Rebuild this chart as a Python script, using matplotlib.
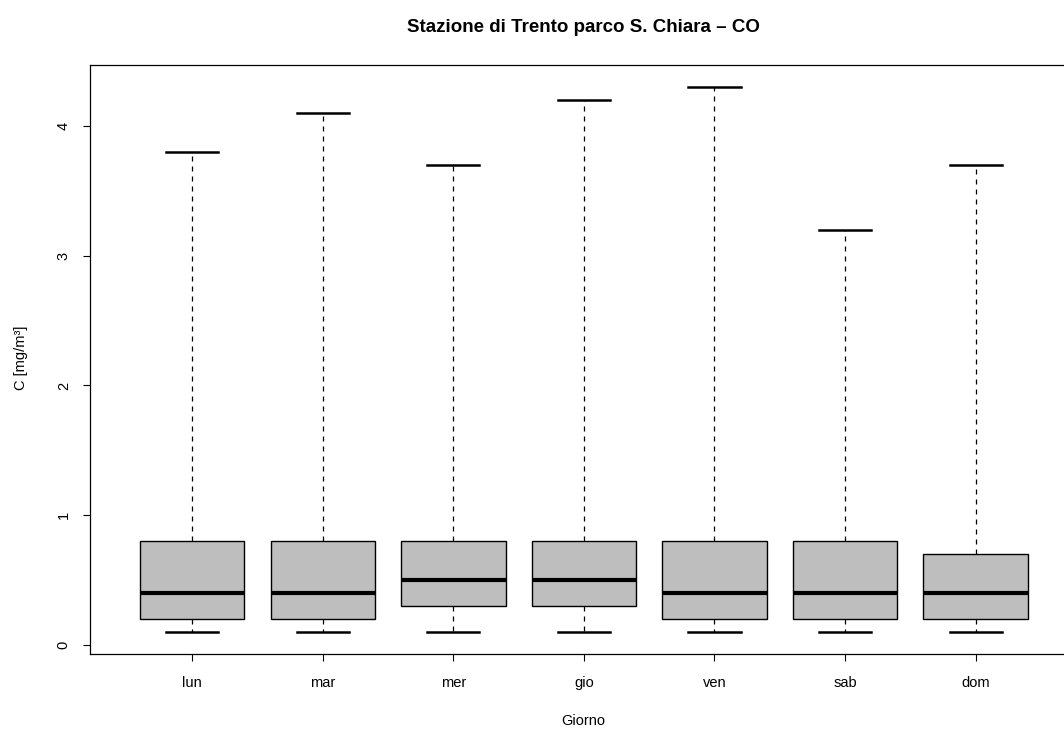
import matplotlib
matplotlib.use("Agg")
import matplotlib.pyplot as plt

days = ["lun", "mar", "mer", "gio", "ven", "sab", "dom"]
whis_lo = [0.1, 0.1, 0.1, 0.1, 0.1, 0.1, 0.1]
q1 = [0.2, 0.2, 0.3, 0.3, 0.2, 0.2, 0.2]
median = [0.4, 0.4, 0.5, 0.5, 0.4, 0.4, 0.4]
q3 = [0.8, 0.8, 0.8, 0.8, 0.8, 0.8, 0.7]
whis_hi = [3.8, 4.1, 3.7, 4.2, 4.3, 3.2, 3.7]

title = "Stazione di Trento parco S. Chiara \u2013 CO"
xlabel = "Giorno"
ylabel = "C [mg/m\u00b3]"

plt.rcParams['font.family'] = ['Liberation Sans', 'DejaVu Sans']

W, H = 1064, 731
fig = plt.figure(figsize=(W / 100, H / 100), dpi=100)
left_px, right_px, top_px, bot_px = 90.3, 1077.5, 65.3, 653.8
ax = fig.add_axes([left_px / W, 1 - bot_px / H, (right_px - left_px) / W, (bot_px - top_px) / H])

stats = []
for i, d in enumerate(days):
    stats.append(dict(label=d, whislo=whis_lo[i], q1=q1[i], med=median[i],
                      q3=q3[i], whishi=whis_hi[i], fliers=[]))

positions = list(range(1, len(days) + 1))
ax.bxp(stats, positions=positions, widths=0.8, capwidths=0.4,
       patch_artist=True, showfliers=False,
       boxprops=dict(facecolor="#bebebe", edgecolor="black", linewidth=1.0),
       medianprops=dict(color="black", linewidth=3.0, solid_capstyle="butt"),
       whiskerprops=dict(color="black", linewidth=0.9, linestyle=(0, (4, 4))),
       capprops=dict(color="black", linewidth=1.8))

rng = max(whis_hi) - min(whis_lo)
ax.set_ylim(min(whis_lo) - 0.04 * rng, max(whis_hi) + 0.04 * rng)
ax.set_xlim(0.5 - 0.04 * 7, 7.5 + 0.04 * 7)
ax.set_yticks([0, 1, 2, 3, 4])
ax.set_xticks(positions)
ax.set_xticklabels(days)

ax.tick_params(axis="both", direction="out", length=5, width=0.8, labelsize=10.5, colors="black")
ax.tick_params(axis="x", pad=11)
ax.tick_params(axis="y", pad=9)
for lab in ax.get_yticklabels():
    lab.set_rotation(90)
    lab.set_va("center")

for s in ax.spines.values():
    s.set_linewidth(0.9)
    s.set_color("black")

cx = 583.5 / W
fig.text(cx, 1 - 28 / H, title, ha="center", va="center",
         fontsize=13.5, fontweight="bold")
fig.text(cx, 1 - 721 / H, xlabel, ha="center", va="center", fontsize=10.5)
fig.text(21 / W, 1 - 358 / H, ylabel, ha="center", va="center", rotation=90, fontsize=10.5)

fig.savefig("out.png", dpi=100)
